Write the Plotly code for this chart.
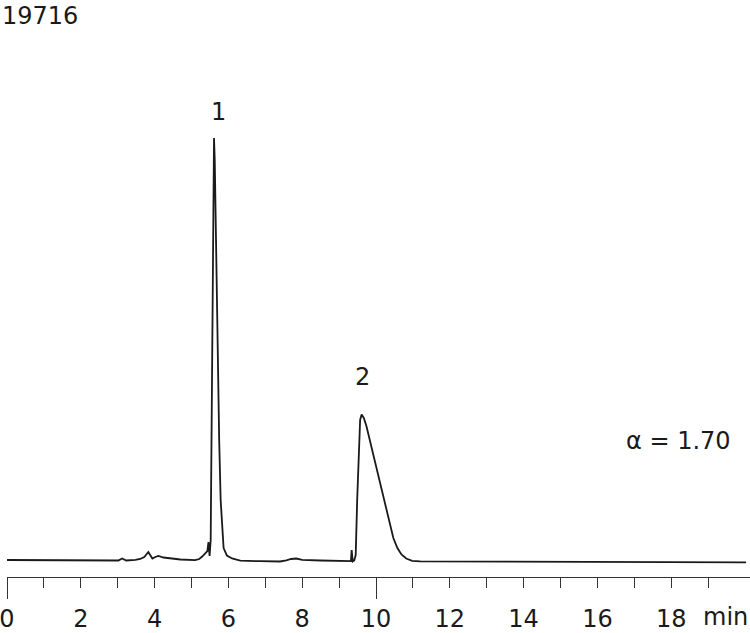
import plotly.graph_objects as go

# Chromatogram trace (time in min, signal in arbitrary units)
time_min = [0.00, 2.53, 3.02, 3.12, 3.23, 3.48, 3.61, 3.72, 3.83, 3.88, 3.94, 4.02, 4.10,
            4.24, 4.43, 4.70, 5.10, 5.21, 5.29, 5.37, 5.43, 5.46, 5.47, 5.49, 5.52, 5.54,
            5.57, 5.60, 5.61, 5.63, 5.67, 5.71, 5.75, 5.79, 5.83, 5.87, 5.96, 6.10, 6.27,
            6.32, 6.86, 7.40, 7.57, 7.70, 7.84, 8.00, 8.49, 9.17, 9.32, 9.34, 9.37, 9.41,
            9.45, 9.49, 9.53, 9.57, 9.61, 9.67, 9.74, 9.85, 9.98, 10.12, 10.25, 10.36,
            10.47, 10.58, 10.69, 10.82, 10.98, 11.20, 13.37, 16.08, 18.79, 20.03]
signal = [0.05, 0.03, 0.00, 0.20, 0.00, 0.07, 0.15, 0.35, 0.85, 0.55, 0.20, 0.35, 0.45,
          0.30, 0.20, 0.10, 0.03, 0.15, 0.40, 0.75, 0.95, 1.85, 0.85, 0.45, 2.05, 11.05,
          26.05, 39.05, 42.25, 40.05, 30.05, 21.05, 12.05, 6.05, 3.05, 1.25, 0.50, 0.20, 0.05,
          -0.02, -0.07, -0.10, 0.02, 0.15, 0.20, 0.07, 0.00, -0.05, -0.07, 1.05, -0.10, 0.00,
          0.55, 6.05, 11.05, 14.05, 14.60, 14.25, 13.45, 11.75, 9.65, 7.55, 5.45, 3.65,
          2.25, 1.25, 0.60, 0.20, -0.03, -0.08, -0.10, -0.13, -0.16, -0.18]

label_ticks = list(range(0, 20))
label_text = [str(v) if v % 2 == 0 else "" for v in label_ticks]
major_ticks = [0, 10]

# Annotations (text, x in min, y in signal units)
peak_labels = ["1", "2"]
peak_label_x = [5.73, 9.63]
peak_label_y = [44.85, 18.35]
alpha_text = "α = 1.70"
alpha_x, alpha_y = 18.19, 11.95
sample_id = "19716"
unit_text = "min"
unit_x = 19.47

FONT = "DejaVu Sans"
INK = "#1a1a1a"

fig = go.Figure()
fig.add_trace(go.Scatter(x=time_min, y=signal, mode="lines",
                         line=dict(color=INK, width=1.8), hoverinfo="skip",
                         showlegend=False))
# invisible trace for the overlay axis carrying the long ticks
fig.add_trace(go.Scatter(x=[0], y=[0], xaxis="x2", mode="markers",
                         marker=dict(opacity=0), showlegend=False, hoverinfo="skip"))

xr = [0, 743 / 36.9]
fig.update_layout(
    width=750, height=633,
    margin=dict(l=7, r=0, t=0, b=56),
    paper_bgcolor="white", plot_bgcolor="white",
    font=dict(family=FONT, color=INK),
    xaxis=dict(range=xr, showgrid=False, zeroline=False, showline=True,
               linecolor="#333", linewidth=1,
               tickmode="array", tickvals=label_ticks, ticktext=label_text,
               ticks="outside", ticklen=10, tickwidth=1, tickcolor="#333",
               tickfont=dict(size=24, family=FONT, color=INK),
               ticklabelstandoff=10, ticklabeloverflow="allow"),
    xaxis2=dict(range=xr, overlaying="x", side="bottom", showgrid=False,
                zeroline=False, showline=False, tickmode="array",
                tickvals=major_ticks, ticktext=["", ""], ticks="outside",
                ticklen=21, tickwidth=1, tickcolor="#333"),
    yaxis=dict(range=[-1.65, 56.05], visible=False, showgrid=False, zeroline=False),
)

for txt, px_, py_ in zip(peak_labels, peak_label_x, peak_label_y):
    fig.add_annotation(x=px_, y=py_, text=txt, showarrow=False,
                       font=dict(size=24, family=FONT, color=INK),
                       xanchor="center", yanchor="middle")
fig.add_annotation(x=alpha_x, y=alpha_y, text=alpha_text, showarrow=False,
                   font=dict(size=24, family=FONT, color=INK),
                   xanchor="center", yanchor="middle")
fig.add_annotation(x=0, y=1, xref="paper", yref="paper", xshift=-7,
                   text=sample_id, showarrow=False,
                   font=dict(size=24, family=FONT, color=INK),
                   xanchor="left", yanchor="top")
fig.add_annotation(x=unit_x, y=0, yref="paper", text=unit_text, showarrow=False,
                   font=dict(size=24, family=FONT, color=INK), borderpad=0,
                   xanchor="center", yanchor="middle", yshift=-40)

fig.write_html("out.html")
